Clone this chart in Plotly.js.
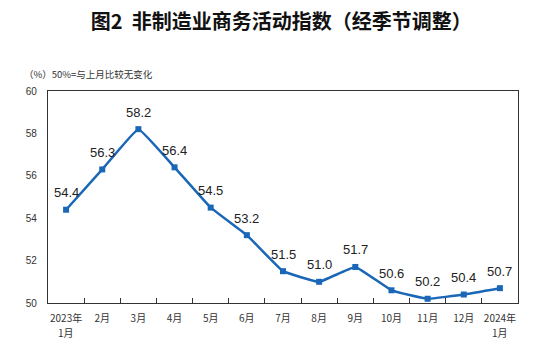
<!DOCTYPE html>
<html>
<head>
<meta charset="utf-8">
<script src="https://cdn.plot.ly/plotly-3.0.1.min.js"></script>
<style>html,body{margin:0;padding:0;background:#fff;}#chart{width:544px;height:353px;}</style>
</head>
<body>
<div id="chart"></div>
<script>
var categories = ["2023年<br>1月","2月","3月","4月","5月","6月","7月","8月","9月","10月","11月","12月","2024年<br>1月"];
var values = [54.4, 56.3, 58.2, 56.4, 54.5, 53.2, 51.5, 51.0, 51.7, 50.6, 50.2, 50.4, 50.7];
var yTicks = [50, 52, 54, 56, 58, 60];

var lineColor = "#1b67b7";
var cjk = "'Noto Sans CJK SC', 'Liberation Sans', sans-serif";

var firstLines = categories.map(function (c) { return c.split("<br>")[0]; });

var trace = {
  x: categories,
  y: values,
  type: "scatter",
  mode: "lines+markers",
  line: {color: lineColor, width: 2.5, shape: "spline", smoothing: 0.25},
  marker: {symbol: "square", size: 6, color: lineColor},
  hoverinfo: "skip"
};

var annotations = values.map(function (v, i) {
  return {
    x: categories[i], y: v, xref: "x", yref: "y",
    text: v.toFixed(1), showarrow: false,
    yshift: 17, xanchor: "center", yanchor: "middle",
    font: {family: "'Liberation Sans', Arial, sans-serif", size: 13, color: "#222"}
  };
});
// second line of two-line category labels
categories.forEach(function (c) {
  var parts = c.split("<br>");
  if (parts.length > 1) {
    annotations.push({
      x: c, xref: "x", y: 0, yref: "paper", yshift: -29,
      xanchor: "center", yanchor: "middle", showarrow: false,
      text: parts[1],
      font: {family: cjk, size: 10, color: "#333"}
    });
  }
});
annotations.push({
  xref: "paper", yref: "paper", x: 0, y: 1, xshift: -26, yshift: 17,
  xanchor: "left", yanchor: "middle", showarrow: false,
  text: "（%）50%=与上月比较无变化",
  font: {family: cjk, size: 9.5, color: "#333"}
});

var layout = {
  width: 544, height: 353,
  margin: {l: 48, r: 26, t: 91, b: 50},
  paper_bgcolor: "#fff", plot_bgcolor: "#fff",
  showlegend: false,
  title: {
    text: "<b>图2  非制造业商务活动指数（经季节调整）</b>",
    x: 0.517, xanchor: "center", y: 0.938, yanchor: "middle",
    font: {family: cjk, size: 20, color: "#111"}
  },
  xaxis: {
    type: "category",
    range: [-0.5, categories.length - 0.5],
    tickmode: "array",
    tickvals: categories,
    ticktext: firstLines,
    showline: true, linecolor: "#333", linewidth: 1.2, mirror: true,
    ticks: "inside", ticklen: 5, tickcolor: "#333", tickson: "boundaries",
    showgrid: false, zeroline: false,
    tickangle: 0,
    ticklabelstandoff: 6,
    tickfont: {family: cjk, size: 10, color: "#333"},
    fixedrange: true
  },
  yaxis: {
    range: [50, 60],
    tickvals: yTicks,
    ticktext: yTicks.map(String),
    showline: true, linecolor: "#333", linewidth: 1.2, mirror: true,
    ticks: "", showgrid: false, zeroline: false,
    ticklabelstandoff: 8,
    tickfont: {family: "'Liberation Sans', Arial, sans-serif", size: 10, color: "#333"},
    fixedrange: true
  },
  annotations: annotations
};

Plotly.newPlot("chart", [trace], layout, {displayModeBar: false, staticPlot: true});
</script>
</body>
</html>
